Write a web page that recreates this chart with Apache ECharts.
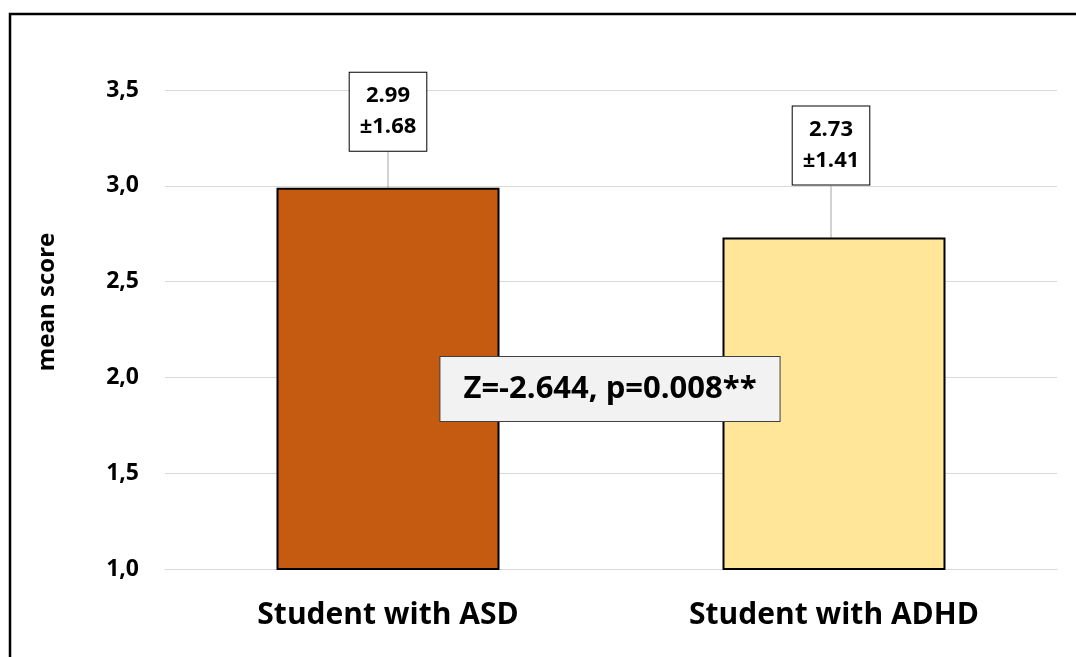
<!DOCTYPE html>
<html>
<head>
<meta charset="utf-8">
<script src="https://cdn.jsdelivr.net/npm/echarts@6/dist/echarts.min.js"></script>
<style>
html,body{margin:0;padding:0;background:#fff;}
#c{width:1076px;height:657px;}
</style>
</head>
<body>
<div id="c"></div>
<script>
const categories = ['Student with ASD', 'Student with ADHD'];
const means = [2.99, 2.73];
const sds = [1.68, 1.41];
const barColors = ['#C55A11', '#FFE699'];
const yTicks = [1.0, 1.5, 2.0, 2.5, 3.0, 3.5];
const statText = 'Z=-2.644, p=0.008**';
const yName = 'mean score';

const FONT = '"Open Sans", "Noto Sans", sans-serif';
const chart = echarts.init(document.getElementById('c'));
const labelOffsets = [-37, -53];
const labelShiftX = [0, -3];

chart.setOption({
  animation: false,
  backgroundColor: '#fff',
  grid: {left: 165, right: 19, top: 90, bottom: 88},
  xAxis: {
    type: 'category',
    data: categories,
    axisLine: {show: true, lineStyle: {color: '#D9D9D9', width: 1}},
    axisTick: {show: false},
    axisLabel: {fontFamily: FONT, fontWeight: 'bold', fontSize: 30, color: '#000', margin: 31}
  },
  yAxis: {
    type: 'value',
    min: yTicks[0], max: yTicks[yTicks.length - 1], interval: 0.5,
    axisLine: {show: false},
    axisTick: {show: false},
    splitLine: {lineStyle: {color: '#D9D9D9', width: 1}},
    axisLabel: {
      fontFamily: FONT, fontWeight: 'bold', fontSize: 23, color: '#000', margin: 26,
      formatter: v => v.toFixed(1).replace('.', ',')
    }
  },
  series: [{
    type: 'bar',
    barWidth: '50%',
    data: means.map((v, i) => ({
      value: v,
      itemStyle: {color: barColors[i], borderColor: '#000', borderWidth: 2}
    })),
    label: {
      show: true,
      position: 'top',
      distance: 0,
      formatter: p => means[p.dataIndex].toFixed(2) + '\n±' + sds[p.dataIndex].toFixed(2),
      fontFamily: FONT, fontWeight: 'bold', fontSize: 22, color: '#000',
      lineHeight: 31,
      backgroundColor: '#fff',
      borderColor: '#000', borderWidth: 1,
      padding: [8, 10, 8, 10]
    },
    labelLayout: p => ({dy: labelOffsets[p.dataIndex], dx: labelShiftX[p.dataIndex]}),
    labelLine: {show: true, lineStyle: {color: '#A6A6A6', width: 1}}
  }],
  graphic: [
    {
      type: 'rect', silent: true, z: 100,
      shape: {x: 10, y: 14, width: 1300, height: 900},
      style: {fill: 'none', stroke: '#000', lineWidth: 2.5}
    },
    {
      type: 'text', z: 50,
      x: 47, y: 302, rotation: Math.PI / 2,
      style: {text: yName, fontFamily: FONT, fontWeight: 'bold', fontSize: 24, fill: '#000',
              align: 'center', verticalAlign: 'middle'}
    },
    {
      type: 'text', z: 60,
      x: 610, y: 389,
      style: {
        text: statText, fontFamily: FONT, fontWeight: 'bold', fontSize: 31, fill: '#000',
        align: 'center', verticalAlign: 'middle', lineHeight: 40,
        backgroundColor: '#F2F2F2', borderColor: '#404040', borderWidth: 1,
        padding: [12, 23, 12, 23]
      }
    }
  ]
});
</script>
</body>
</html>
